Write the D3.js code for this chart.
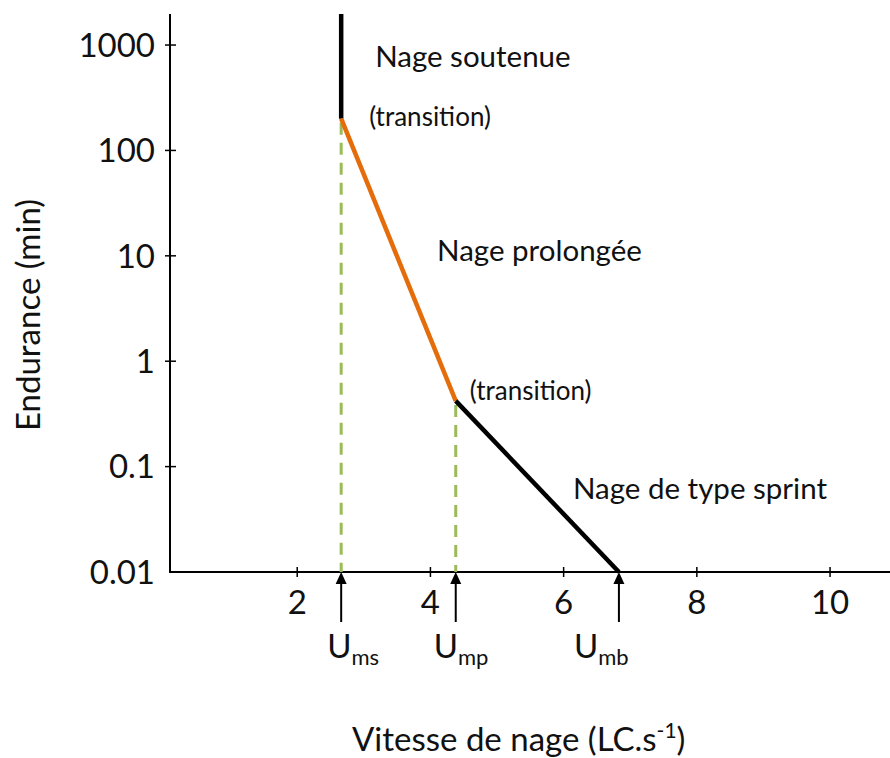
<!DOCTYPE html>
<html>
<head>
<meta charset="utf-8">
<script src="https://cdn.jsdelivr.net/npm/d3@7/dist/d3.min.js"></script>
<style>
  html, body { margin: 0; padding: 0; background: #fff; }
  svg { display: block; font-family: Lato, "Open Sans", sans-serif; }
</style>
</head>
<body>
<svg id="chart" width="890" height="758"></svg>
<script>
// ---- Data ----
const xTicks = [2, 4, 6, 8, 10];
const yTicks = [0.01, 0.1, 1, 10, 100, 1000];
const yTickLabels = ["0.01", "0.1", "1", "10", "100", "1000"];
const xDomain = [0.09, 10.9];
const yDomain = [0.01, 1970];

// Threshold speeds (body lengths per second)
const thresholdNames = ["ms", "mp", "mb"];
const thresholdSpeeds = [2.66, 4.38, 6.83];

// Segments: [speed, endurance]
const sustainedSeg = [[2.66, 1970], [2.66, 200]];
const prolongedSeg = [[2.66, 200], [4.38, 0.42]];
const sprintSeg = [[4.38, 0.42], [6.83, 0.01]];
// Dashed guides from transition points down to the axis
const guidePoints = [[2.66, 200], [4.38, 0.42]];

// Annotations: text, speed, endurance
const regimeTexts = ["Nage soutenue", "Nage prolongée", "Nage de type sprint"];
const regimeSpeeds = [3.17, 4.10, 6.14];
const regimeEndurances = [618, 8.9, 0.049];
const transitionText = "(transition)";

// ---- Layout ----
const svg = d3.select("#chart");
const x = d3.scaleLinear().domain(xDomain).range([170, 890]);
const y = d3.scaleLog().domain(yDomain).range([572, 14]);
const x0 = x.range()[0], yBase = y.range()[0];

const black = "#000";
const orange = "#E46C0A";
const green = "#9BBB59";

// Axes lines
svg.append("line").attr("x1", x0).attr("x2", x0)
  .attr("y1", y.range()[1]).attr("y2", yBase)
  .attr("stroke", black).attr("stroke-width", 2);
svg.append("line").attr("x1", x0 - 1).attr("x2", x.range()[1])
  .attr("y1", yBase).attr("y2", yBase)
  .attr("stroke", black).attr("stroke-width", 2);

// Y ticks
const yt = svg.append("g");
yt.selectAll("line").data(yTicks.slice(1)).join("line")
  .attr("x1", x0 - 5).attr("x2", x0 + 6)
  .attr("y1", d => y(d)).attr("y2", d => y(d))
  .attr("stroke", black).attr("stroke-width", 1.5);
yt.selectAll("text").data(yTicks).join("text")
  .attr("x", x0 - 15).attr("y", d => y(d))
  .attr("dy", "0.36em")
  .attr("text-anchor", "end")
  .attr("font-size", 33)
  .attr("fill", "#111")
  .text((d, i) => yTickLabels[i]);

// X ticks
const xt = svg.append("g");
xt.selectAll("line").data(xTicks).join("line")
  .attr("x1", d => x(d)).attr("x2", d => x(d))
  .attr("y1", yBase - 5).attr("y2", yBase + 5)
  .attr("stroke", black).attr("stroke-width", 1.5);
xt.selectAll("text").data(xTicks).join("text")
  .attr("x", d => x(d)).attr("y", 614)
  .attr("text-anchor", "middle")
  .attr("font-size", 33)
  .attr("fill", "#111")
  .text(d => d);

// Dashed guides
svg.append("g").selectAll("line").data(guidePoints).join("line")
  .attr("x1", d => x(d[0])).attr("x2", d => x(d[0]))
  .attr("y1", d => y(d[1]) + 4).attr("y2", yBase)
  .attr("stroke", green).attr("stroke-width", 3)
  .attr("stroke-dasharray", "12,8");

// Segments
const line = d3.line().x(d => x(d[0])).y(d => y(d[1]));
svg.append("path").datum(sustainedSeg).attr("d", line)
  .attr("fill", "none").attr("stroke", black).attr("stroke-width", 4.5);
svg.append("path").datum(prolongedSeg).attr("d", line)
  .attr("fill", "none").attr("stroke", orange).attr("stroke-width", 4.5);
svg.append("path").datum(sprintSeg).attr("d", line)
  .attr("fill", "none").attr("stroke", black).attr("stroke-width", 4.5);

// Arrows and threshold labels
const labelDx = [-14, -22, -45];
const arrows = svg.append("g");
thresholdSpeeds.forEach((v, i) => {
  const ax = x(v);
  arrows.append("line").attr("x1", ax).attr("x2", ax)
    .attr("y1", 622).attr("y2", yBase + 10)
    .attr("stroke", black).attr("stroke-width", 2);
  arrows.append("path")
    .attr("d", `M${ax},${yBase} L${ax - 5.5},${yBase + 12} L${ax + 5.5},${yBase + 12} Z`)
    .attr("fill", black);
  const t = arrows.append("text")
    .attr("x", ax + labelDx[i]).attr("y", 658)
    .attr("font-size", 33).attr("fill", "#111");
  t.append("tspan").text("U");
  t.append("tspan").attr("font-size", 22).attr("dy", 7).text(thresholdNames[i]);
});

// Regime labels
svg.append("g").selectAll("text").data(regimeTexts).join("text")
  .attr("x", (d, i) => x(regimeSpeeds[i]))
  .attr("y", (d, i) => y(regimeEndurances[i]))
  .attr("font-size", 29.5).attr("fill", "#111")
  .text(d => d);

// Transition labels, placed next to the transition points
const transOffsets = [[28, 7], [14, -1]];
svg.append("g").selectAll("text").data(guidePoints).join("text")
  .attr("x", (d, i) => x(d[0]) + transOffsets[i][0])
  .attr("y", (d, i) => y(d[1]) + transOffsets[i][1])
  .attr("font-size", 26).attr("fill", "#111")
  .text(transitionText);

// Axis titles
const xt2 = svg.append("text")
  .attr("x", 352).attr("y", 751)
  .attr("font-size", 33).attr("fill", "#111");
xt2.append("tspan").text("Vitesse de nage (LC.s");
xt2.append("tspan").attr("font-size", 21).attr("dy", -13).text("-1");
xt2.append("tspan").attr("dy", 13).text(")");

svg.append("text")
  .attr("transform", "translate(40,315) rotate(-90)")
  .attr("text-anchor", "middle")
  .attr("font-size", 33).attr("fill", "#111")
  .text("Endurance (min)");
</script>
</body>
</html>
